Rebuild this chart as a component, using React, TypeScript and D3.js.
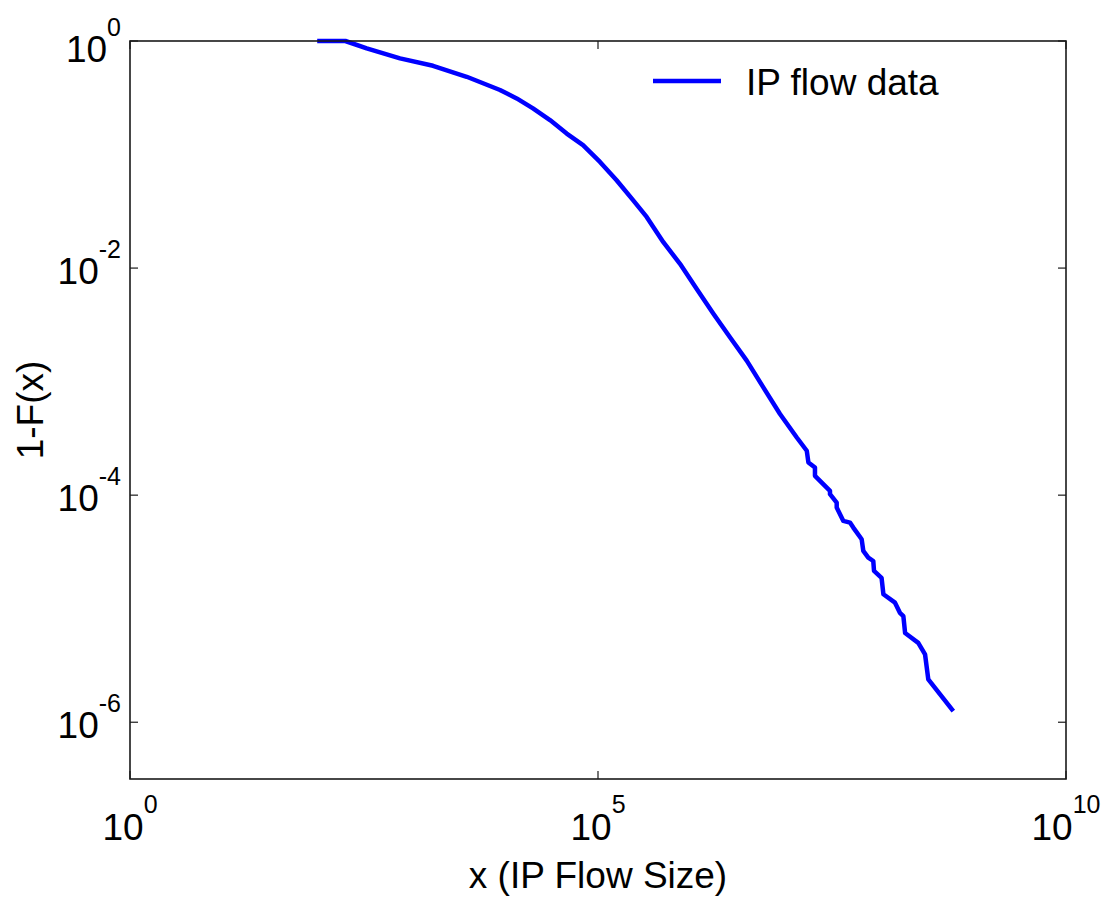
import React from "react";
import * as d3 from "d3";

// ---- data (CCDF of IP flow sizes) ----
const flowSize = [
  100, 200, 338, 767, 1727, 3955, 8974, 13530, 20200, 30700, 46300, 69200,
  105000, 158000, 238000, 331000, 499000, 752000, 1.13e6, 1.71e6, 2.57e6,
  3.88e6, 5.84e6, 8.8e6, 1.33e7, 1.7e7, 1.77e7, 2.08e7, 2.08e7, 3.01e7,
  3.01e7, 3.55e7, 3.55e7, 4.18e7, 4.92e7, 5.34e7, 6.56e7, 6.83e7, 7.72e7,
  8.73e7, 8.89e7, 1.07e8, 1.12e8, 1.49e8, 1.68e8, 1.83e8, 1.91e8, 2.64e8,
  3.12e8, 3.38e8, 6.25e8,
];
const ccdf = [
  1, 1, 0.862, 0.703, 0.605, 0.484, 0.37, 0.312, 0.255, 0.201, 0.153, 0.121,
  0.0861, 0.0594, 0.0395, 0.0282, 0.0169, 0.0109, 0.00657, 0.00396, 0.00246,
  0.00153, 8.9e-4, 5.19e-4, 3.22e-4, 2.46e-4, 1.94e-4, 1.75e-4, 1.48e-4,
  1.09e-4, 1.02e-4, 8.6e-5, 7.78e-5, 5.93e-5, 5.73e-5, 5.18e-5, 4.09e-5,
  3.23e-5, 2.82e-5, 2.63e-5, 2.15e-5, 1.87e-5, 1.34e-5, 1.13e-5, 9.2e-6,
  8.6e-6, 6.1e-6, 5.0e-6, 3.96e-6, 2.38e-6, 1.25e-6,
];
const xTickExps = [0, 5, 10];
const yTickExps = [0, -2, -4, -6];
const seriesName = "IP flow data";
const xLabel = "x (IP Flow Size)";
const yLabel = "1-F(x)";

const W = 1105;
const H = 897;
const M = { left: 130, right: 39, top: 41, bottom: 118 };
const FONT = "'Liberation Sans', Arial, Helvetica, sans-serif";
const FS = 37;
const SUP = 25;
const TICK = 8;

export default function App() {
  const x = d3
    .scaleLog()
    .domain([1, 1e10])
    .range([M.left, W - M.right]);
  const y = d3
    .scaleLog()
    .domain([Math.pow(10, -6.5), 1])
    .range([H - M.bottom, M.top]);

  const pts = flowSize.map((v, i) => [v, ccdf[i]] as [number, number]);
  const line = d3
    .line<[number, number]>()
    .x((d) => x(d[0]))
    .y((d) => y(d[1]));

  const x0 = M.left;
  const x1 = W - M.right;
  const y0 = M.top;
  const y1 = H - M.bottom;

  return (
    <svg
      width={W}
      height={H}
      style={{ position: "absolute", left: 0, top: 0, background: "#fff" }}
      fontFamily={FONT}
    >
      <rect x={0} y={0} width={W} height={H} fill="#fff" />
      {/* data line */}
      <path
        d={line(pts) || ""}
        fill="none"
        stroke="#0000ff"
        strokeWidth={4.5}
        strokeLinejoin="round"
      />
      {/* axes box */}
      <rect
        x={x0}
        y={y0}
        width={x1 - x0}
        height={y1 - y0}
        fill="none"
        stroke="#1a1a1a"
        strokeWidth={1.6}
      />
      {/* x ticks */}
      {xTickExps.map((e) => {
        const px = x(Math.pow(10, e));
        return (
          <g key={"xt" + e}>
            <line x1={px} x2={px} y1={y1} y2={y1 - TICK} stroke="#1a1a1a" strokeWidth={1.2} />
            <line x1={px} x2={px} y1={y0} y2={y0 + TICK} stroke="#1a1a1a" strokeWidth={1.2} />
            <text x={px} y={y1 + 61} fontSize={FS} textAnchor="middle" fill="#000">
              10
              <tspan fontSize={SUP} dy={-27}>
                {String(e)}
              </tspan>
            </text>
          </g>
        );
      })}
      {/* y ticks */}
      {yTickExps.map((e) => {
        const py = y(Math.pow(10, e));
        return (
          <g key={"yt" + e}>
            <line x1={x0} x2={x0 + TICK} y1={py} y2={py} stroke="#1a1a1a" strokeWidth={1.2} />
            <line x1={x1} x2={x1 - TICK} y1={py} y2={py} stroke="#1a1a1a" strokeWidth={1.2} />
            <text x={x0 - 9} y={py + (e === 0 ? 21 : 16)} fontSize={FS} textAnchor="end" fill="#000">
              10
              <tspan fontSize={SUP} dy={-26}>
                {String(e)}
              </tspan>
            </text>
          </g>
        );
      })}
      {/* axis labels */}
      <text x={(x0 + x1) / 2} y={888} fontSize={FS} textAnchor="middle" fill="#000">
        {xLabel}
      </text>
      <text
        transform={`translate(43,${(y0 + y1) / 2}) rotate(-90)`}
        fontSize={FS}
        textAnchor="middle"
        fill="#000"
      >
        {yLabel}
      </text>
      {/* legend */}
      <line x1={653} x2={721} y1={81} y2={81} stroke="#0000ff" strokeWidth={4.5} />
      <text x={746} y={95} fontSize={FS} fill="#000">
        {seriesName}
      </text>
    </svg>
  );
}
